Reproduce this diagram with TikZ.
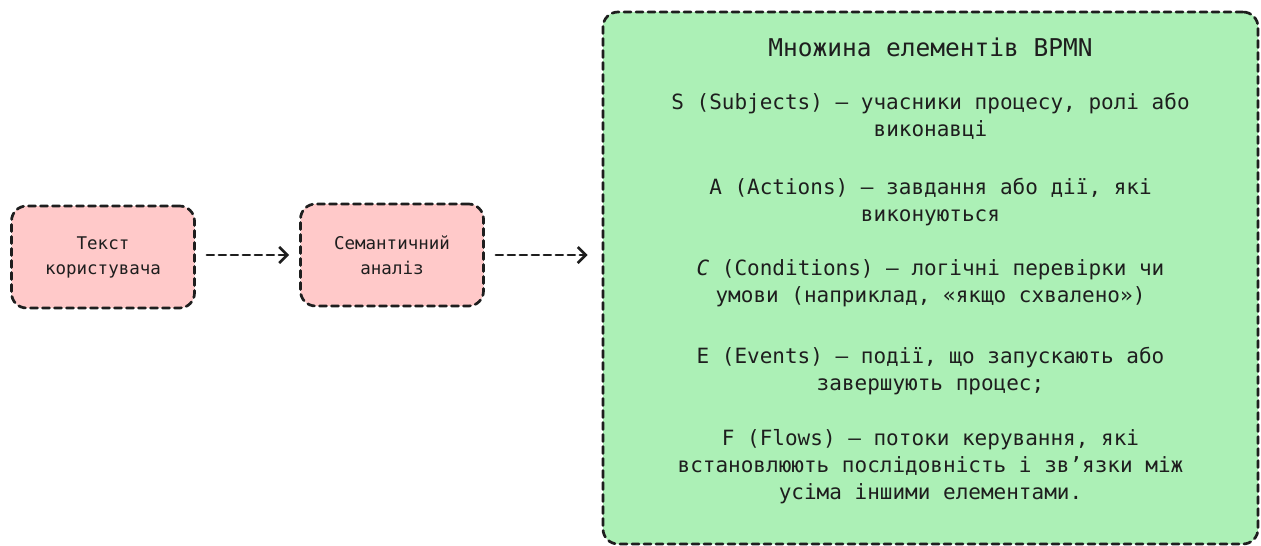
\documentclass[tikz,border=0pt]{standalone}
\usepackage{fontspec}
\setmainfont{DejaVu Sans Mono}
\usetikzlibrary{arrows.meta}
\definecolor{ink}{HTML}{1E1E1E}
\definecolor{pinkfill}{HTML}{FFC9C9}
\definecolor{greenfill}{HTML}{ACF0B6}
\tikzset{
  dashbox/.style={draw=ink, line width=2.7pt, dash pattern=on 7pt off 5pt, rounded corners=15pt, line cap=round},
  smallbox/.style={dashbox, fill=pinkfill, minimum width=183pt, minimum height=102pt, align=center, text=ink, font=\fontsize{17.5}{25}\selectfont},
  bigbox/.style={dashbox, fill=greenfill, minimum width=655pt, minimum height=532pt},
  item/.style={align=center, text=ink, font=\fontsize{21}{27}\selectfont, inner sep=0pt},
  titletext/.style={align=center, text=ink, font=\fontsize{24.5}{30}\selectfont, inner sep=0pt},
  flow/.style={draw=ink, line width=2.7pt, dash pattern=on 7pt off 5pt, line cap=round, -{Straight Barb[length=8pt,width=16pt,line width=2.7pt]}},
}
\begin{document}
\begin{tikzpicture}[x=1pt,y=-1pt]
\useasboundingbox (0,0) rectangle (1261,546);
\node[smallbox] (b1) at (103,257) {Текст\\користувача};
\node[smallbox] (b2) at (392,255) {Семантичний\\аналіз};
\node[bigbox] (big) at (930.5,278) {};
\node[titletext] (title) at (930.5,47) {Множина елементів BPMN};
\node[item] (s) at (930.5,116.5) {S (Subjects) – учасники процесу, ролі або\\виконавці};
\node[item] (a) at (930.5,202.5) {A (Actions) – завдання або дії, які\\виконуються};
\node[item] (c) at (930.5,283.5) {\textit{C} (Conditions) – логічні перевірки чи\\умови (наприклад, «якщо схвалено»)};
\node[item] (e) at (930.5,371.5) {E (Events) – події, що запускають або\\завершують процес;};
\node[item] (f) at (930.5,467) {F (Flows) – потоки керування, які\\встановлюють послідовність і зв’язки між\\усіма іншими елементами.};
\draw[flow, shorten <=11pt, shorten >=10pt] (b1.east |- b2.east) -- (b2.west);
\draw[flow, shorten <=11pt, shorten >=14pt] (b2.east) -- (b2.east -| big.west);
\end{tikzpicture}
\end{document}
